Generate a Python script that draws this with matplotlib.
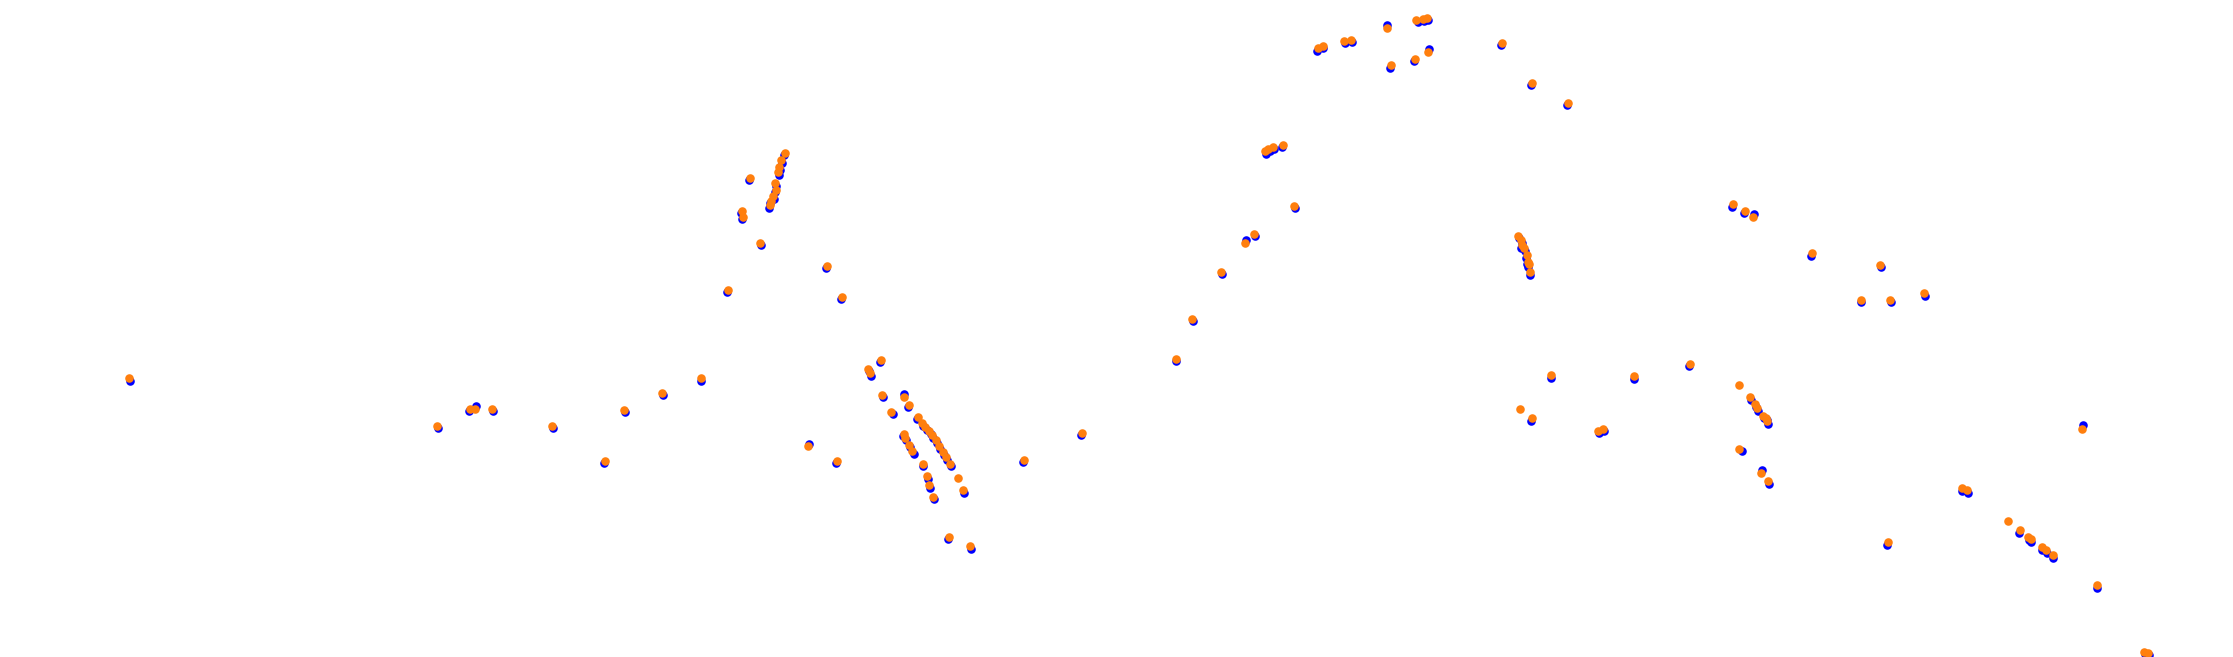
import matplotlib
matplotlib.use('Agg')
import matplotlib.pyplot as plt
import numpy as np

# positions (pixel units, y down)
orange_x = [129, 437, 470, 475, 492, 552, 605, 624, 662, 701,
            728, 742, 743, 750, 760, 770, 771, 773, 776, 775,
            778, 779, 781, 785, 827, 842, 808, 837, 868, 870,
            881, 882, 891, 904, 909, 904, 905, 909, 912, 918,
            922, 925, 929, 932, 936, 939, 943, 946, 950, 923,
            927, 929, 933, 958, 963, 949, 970, 1024, 1082, 1176,
            1192, 1221, 1245, 1254, 1294, 1265, 1268, 1273, 1283, 1318,
            1323, 1344, 1351, 1387, 1391, 1415, 1416, 1423, 1427, 1428,
            1502, 1532, 1568, 1518, 1521, 1522, 1524, 1527, 1528, 1529,
            1530, 1520, 1532, 1551, 1598, 1603, 1634, 1690, 1733, 1745,
            1753, 1739, 1750, 1755, 1757, 1763, 1766, 1767, 1739, 1761,
            1768, 1812, 1861, 1880, 1890, 1924, 1888, 1962, 1967, 2008,
            2020, 2028, 2031, 2042, 2046, 2053, 2082, 2097, 2144, 2148]
orange_y = [378, 426, 409, 409, 409, 426, 461, 410, 393, 378,
            290, 211, 217, 178, 243, 205, 201, 196, 190, 183,
            172, 167, 160, 153, 266, 297, 446, 461, 369, 373,
            360, 395, 412, 397, 405, 434, 438, 445, 451, 417,
            423, 427, 431, 435, 440, 446, 452, 457, 464, 464,
            476, 485, 497, 478, 490, 537, 546, 460, 433, 359,
            319, 272, 243, 234, 206, 151, 149, 147, 145, 48,
            46, 41, 40, 28, 65, 59, 20, 19, 18, 52,
            43, 83, 103, 236, 240, 245, 248, 255, 262, 264,
            272, 409, 418, 375, 431, 429, 376, 364, 204, 211,
            217, 385, 397, 404, 408, 416, 418, 421, 449, 473,
            481, 253, 300, 265, 300, 293, 542, 488, 490, 521,
            530, 537, 539, 547, 550, 555, 429, 585, 652, 653]

blue_x = [130, 438, 469, 476, 493, 553, 604, 625, 663, 701,
          727, 741, 742, 749, 761, 769, 770, 774, 775, 776,
          779, 780, 782, 784, 826, 841, 809, 836, 869, 871,
          880, 883, 893, 904, 908, 903, 906, 910, 914, 917,
          923, 927, 931, 933, 937, 940, 944, 947, 951, 923,
          928, 930, 934, 964, 948, 971, 1023, 1081, 1176,
          1193, 1222, 1246, 1255, 1295, 1266, 1270, 1274, 1282, 1317,
          1323, 1345, 1352, 1387, 1390, 1414, 1418, 1424, 1428, 1429,
          1501, 1531, 1567, 1519, 1522, 1521, 1525, 1526, 1527, 1528,
          1530, 1531, 1551, 1599, 1604, 1634, 1689, 1732, 1744,
          1754, 1751, 1756, 1758, 1764, 1767, 1768, 1742, 1762,
          1769, 1811, 1861, 1881, 1891, 1925, 1887, 1962, 1968,
          2019, 2029, 2031, 2042, 2047, 2053, 2083, 2097, 2145, 2149]
blue_y = [381, 428, 411, 406, 411, 428, 463, 412, 395, 381,
          292, 213, 219, 180, 245, 208, 203, 199, 192, 186,
          175, 170, 163, 155, 268, 299, 444, 463, 371, 376,
          362, 397, 414, 394, 407, 436, 440, 447, 454, 419,
          426, 430, 434, 438, 443, 449, 455, 460, 466, 466,
          479, 488, 499, 493, 539, 549, 462, 435, 361,
          321, 274, 240, 236, 208, 154, 151, 149, 147, 51,
          48, 43, 42, 25, 68, 61, 22, 21, 20, 49,
          45, 85, 105, 238, 243, 248, 251, 258, 264, 267,
          275, 421, 378, 433, 431, 379, 366, 207, 213,
          214, 400, 407, 411, 418, 420, 424, 451, 470,
          484, 256, 302, 267, 302, 296, 545, 491, 493,
          533, 540, 542, 550, 553, 558, 425, 588, 654, 655]

fig = plt.figure(figsize=(22.33, 6.57), dpi=100)
ax = fig.add_axes([0, 0, 1, 1])
ax.scatter(blue_x, blue_y, s=38, color='#0000ff', linewidths=0)
ax.scatter(orange_x, orange_y, s=38, color='#ff7f0e', linewidths=0)
ax.set_xlim(0, 2233)
ax.set_ylim(657, 0)
ax.axis('off')

fig.savefig('out.png', dpi=100)
